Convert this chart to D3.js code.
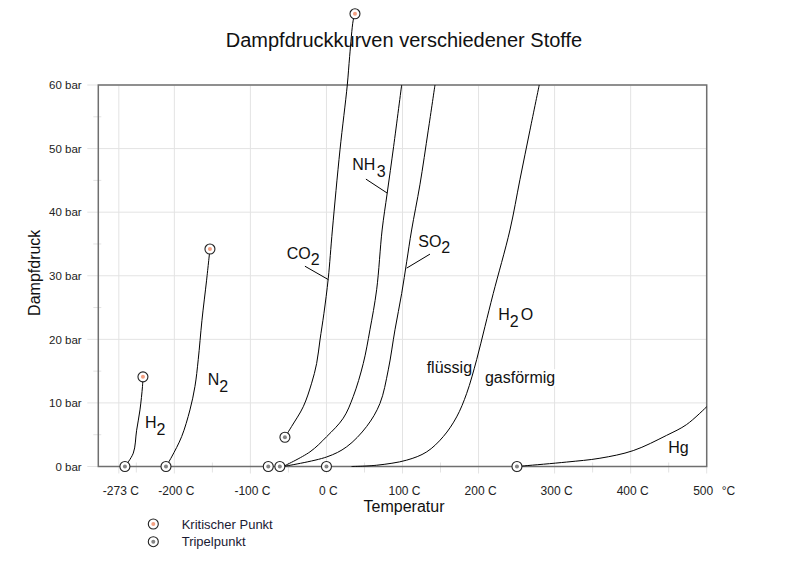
<!DOCTYPE html>
<html><head><meta charset="utf-8">
<script src="https://cdn.jsdelivr.net/npm/d3@7"></script>
<style>body{margin:0;background:#fff} text{font-family:"Liberation Sans",Arial,sans-serif}</style>
</head><body><svg id="c" width="800" height="566"></svg>
<script>
// ---- data (°C, bar) ----
const xTicks = [-273, -200, -100, 0, 100, 200, 300, 400, 500];
const xTickLabels = ["-273 C", "-200 C", "-100 C", "0 C", "100 C", "200 C", "300 C", "400 C", "500"];
const xMinor = [-250, -150, -50, 50, 150, 250, 350, 450];
const yTicks = [0, 10, 20, 30, 40, 50, 60];
const yTickLabels = ["0 bar", "10 bar", "20 bar", "30 bar", "40 bar", "50 bar", "60 bar"];
const yMinor = [5, 15, 25, 35, 45, 55];

const h2  = [[-265,0],[-254,2.1],[-249.6,5.7],[-245.2,8.9],[-241.9,12.6],[-241.3,14.1]];
const n2  = [[-211,0],[-203.6,1.5],[-190.4,4.7],[-179.5,8.9],[-172.9,12.6],[-168.6,16.8],[-163.7,23],[-157.6,29.3],[-153.2,34.2]];
const co2 = [[-54.6,4.6],[-45.8,6.3],[-30.5,9.4],[-19.5,13.1],[-12.9,16.2],[-8.5,19.9],[-3.3,24.1],[2.4,29.6],[7.8,37.2],[17.8,49.8],[27.4,60],[30.5,64.5],[35.2,70.2],[37.5,71.2]];
const nh3 = [[-57,0],[-21.7,2.3],[0.3,4.7],[22.1,7.6],[35.2,11],[48.4,16.2],[57.2,21.5],[66,27.8],[73.2,37.2],[79.9,43],[88.3,50.3],[98.9,60]];
const so2 = [[-57,0],[0.3,1.5],[26.6,3.1],[52.9,6.3],[70.3,9.9],[81.3,15.2],[90.1,21.5],[98.9,27.2],[105.5,32.2],[112,37.2],[122.9,44.3],[133.9,52.9],[142.7,60]];
const h2o = [[33,0],[66,0.2],[105.5,1],[131.8,2.3],[153.6,4.7],[171.2,7.8],[184.4,11.5],[197.5,16.8],[208.4,22],[219.3,27.2],[241.3,37.2],[254.4,45.1],[267.6,52.9],[279.8,60]];
const hg  = [[250.5,0],[260,0.1],[315.8,0.7],[359.6,1.3],[403.4,2.5],[447.3,4.9],[473.6,6.6],[500,9.4]];
const curves = [h2, n2, co2, nh3, so2, h2o, hg];

const criticalPoints = [[-241.3,14.1],[-153.2,34.2],[37.5,71.2]];
const triplePoints = [[-265,0],[-211,0],[-76.5,0],[-61.3,0],[-54.6,4.6],[0,0],[250.5,0]];

// substance labels: main text, subscript, trailing text, position (°C, bar)
const substLabels = [
  {main:"H", sub:"2", tail:"", T:-238.7, P:6.0},
  {main:"N", sub:"2", tail:"", T:-156.2, P:12.8},
  {main:"CO", sub:"2", tail:"", T:-52.3, P:32.7},
  {main:"NH", sub:"3", tail:"", T:33.9, P:46.6, gap:1.5},
  {main:"SO", sub:"2", tail:"", T:120.7, P:34.6},
  {main:"H", sub:"2", tail:"O", T:225.9, P:23.0},
  {main:"Hg", sub:"", tail:"", T:449.4, P:2.1}
];
const leaders = [
  [[-28.3,31.5],[2.4,29.4]],
  [[51.9,45.2],[79.9,43.0]],
  [[136.1,33.4],[105.5,31.2]]
];
const phaseLabels = [
  {text:"flüssig", T:131.8, P:14.7},
  {text:"gasförmig", T:208.4, P:13.1}
];
const legendItems = [
  {label:"Kritischer Punkt", kind:"crit"},
  {label:"Tripelpunkt", kind:"triple"}
];
const titleText = "Dampfdruckkurven verschiedener Stoffe";

// ---- drawing ----
const svg = d3.select("#c");
const x = d3.scaleLinear([-300, 500], [98.3, 706.7]);
const y = d3.scaleLinear([0, 60], [466.5, 85]);
const gridCol = "#e3e3e3";

// gridlines
const grid = svg.append("g").attr("stroke", gridCol).attr("stroke-width", 1);
grid.selectAll(".vg").data(xTicks).join("line")
  .attr("x1", d => x(d)).attr("x2", d => x(d)).attr("y1", y(60)).attr("y2", y(0) + 7);
grid.selectAll(".vm").data(xMinor).join("line")
  .attr("x1", d => x(d)).attr("x2", d => x(d)).attr("y1", y(0) - 4).attr("y2", y(0) + 6);
grid.selectAll(".hg").data(yTicks).join("line")
  .attr("y1", d => y(d)).attr("y2", d => y(d)).attr("x1", x(-300) - 11).attr("x2", x(500));
grid.selectAll(".hm").data(yMinor).join("line")
  .attr("y1", d => y(d)).attr("y2", d => y(d)).attr("x1", x(-300) - 5).attr("x2", x(-300) + 3);

// axes labels via d3 axes
const xa = svg.append("g").attr("transform", `translate(0,${y(0)})`)
  .call(d3.axisBottom(x).tickValues(xTicks).tickSize(0).tickPadding(20)
    .tickFormat((d, i) => xTickLabels[i]));
xa.select(".domain").remove();
xa.selectAll("text").attr("font-size", 12).attr("fill", "#222")
  .attr("font-family", "Liberation Sans, Arial, sans-serif")
  .attr("dx", (d, i) => d === 500 ? -4 : 1.5);
svg.append("text").attr("x", x(500) + 15).attr("y", y(0) + 28.5)
  .attr("font-size", 12).attr("fill", "#222").text("°C");

const ya = svg.append("g").attr("transform", `translate(${x(-300)},0)`)
  .call(d3.axisLeft(y).tickValues(yTicks).tickSize(0).tickPadding(16.6)
    .tickFormat((d, i) => yTickLabels[i]));
ya.select(".domain").remove();
ya.selectAll("text").attr("font-size", 11.5).attr("fill", "#222")
  .attr("font-family", "Liberation Sans, Arial, sans-serif");

// white label backgrounds for phase labels
const phaseG = svg.append("g");
phaseLabels.forEach(p => {
  const t = phaseG.append("text").attr("x", x(p.T)).attr("y", y(p.P))
    .attr("font-size", 16).attr("fill", "#111").text(p.text);
  const b = t.node().getBBox();
  phaseG.insert("rect", "text").attr("x", b.x - 1).attr("y", b.y).attr("width", b.width + 2)
    .attr("height", b.height).attr("fill", "#fff");
});

// frame
svg.append("rect").attr("x", x(-300)).attr("y", y(60))
  .attr("width", x(500) - x(-300)).attr("height", y(0) - y(60))
  .attr("fill", "none").attr("stroke", "#6f6f6f").attr("stroke-width", 1.5);

// curves
const line = d3.line().x(d => x(d[0])).y(d => y(d[1])).curve(d3.curveCatmullRom.alpha(0.5));
svg.append("g").selectAll("path").data(curves).join("path")
  .attr("d", line).attr("fill", "none").attr("stroke", "#000").attr("stroke-width", 1);

// leaders
svg.append("g").selectAll("line").data(leaders).join("line")
  .attr("x1", d => x(d[0][0])).attr("y1", d => y(d[0][1]))
  .attr("x2", d => x(d[1][0])).attr("y2", d => y(d[1][1]))
  .attr("stroke", "#000").attr("stroke-width", 1);

// substance labels
const sl = svg.append("g").selectAll("text").data(substLabels).join("text")
  .attr("x", d => x(d.T)).attr("y", d => y(d.P))
  .attr("font-size", 16).attr("fill", "#111");
sl.append("tspan").text(d => d.main);
sl.filter(d => d.sub).append("tspan").attr("dy", 6.5).attr("dx", d => d.gap || 0).text(d => d.sub);
sl.filter(d => d.tail).append("tspan").attr("dy", -6.5).attr("dx", 2).text(d => d.tail);

// markers
function marker(g, cx, cy, kind) {
  g.append("circle").attr("cx", cx).attr("cy", cy).attr("r", 5)
    .attr("fill", "#fff").attr("stroke", "#222").attr("stroke-width", 1.1);
  g.append("circle").attr("cx", cx).attr("cy", cy).attr("r", 2)
    .attr("fill", kind === "crit" ? "#f4a082" : "#858585");
}
const mg = svg.append("g");
triplePoints.forEach(d => marker(mg, x(d[0]), y(d[1]), "triple"));
criticalPoints.forEach(d => marker(mg, x(d[0]), y(d[1]), "crit"));

// title & axis titles
svg.append("text").attr("x", 404).attr("y", 46.5).attr("text-anchor", "middle")
  .attr("font-size", 20).attr("fill", "#111").text(titleText);
svg.append("text").attr("x", 404).attr("y", 512).attr("text-anchor", "middle")
  .attr("font-size", 16).attr("fill", "#111").text("Temperatur");
svg.append("text").attr("transform", `translate(40,${(y(0) + y(60)) / 2 - 3}) rotate(-90)`)
  .attr("text-anchor", "middle").attr("font-size", 16).attr("fill", "#111").text("Dampfdruck");

// legend
const lg = svg.append("g");
legendItems.forEach((it, i) => {
  const cy = 524 + i * 17.7;
  marker(lg, 153.3, cy, it.kind);
  lg.append("text").attr("x", 181.7).attr("y", cy + 4.5).attr("font-size", 13)
    .attr("fill", "#1a1a33").text(it.label);
});
</script></body></html>
